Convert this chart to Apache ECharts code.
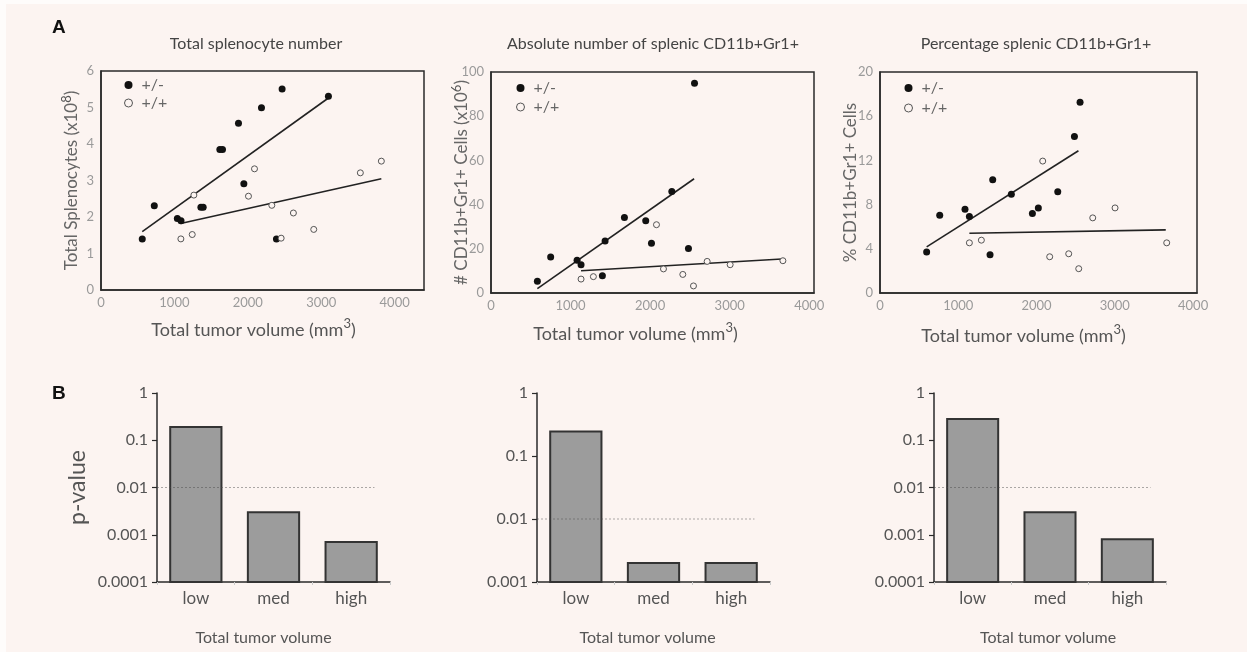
<!DOCTYPE html>
<html>
<head>
<meta charset="utf-8">
<script src="https://cdn.jsdelivr.net/npm/echarts@6/dist/echarts.min.js"></script>
<style>
  html, body { margin: 0; padding: 0; background: #fcf4f1; }
  #chart { width: 1247px; height: 652px; }
</style>
</head>
<body>
<div id="chart"></div>
<script>
// ---- data ----
// panel A1: total splenocytes (x10^8) vs tumor volume (mm3)
const a1Het = [[562, 1.40], [726, 2.31], [1040, 1.96], [1090, 1.90], [1361, 2.27], [1392, 2.27],
  [1619, 3.85], [1655, 3.85], [1873, 4.57], [1946, 2.91], [2186, 4.99], [2390, 1.40],
  [2467, 5.51], [3098, 5.31]];
const a1Wt = [[1088, 1.40], [1243, 1.52], [1265, 2.60], [2009, 2.57], [2091, 3.32], [2327, 2.32],
  [2454, 1.42], [2621, 2.11], [2898, 1.66], [3533, 3.21], [3819, 3.53]];
const a1HetFit = [[562, 1.60], [3098, 5.26]];
const a1WtFit = [[1084, 1.82], [3819, 3.05]];

// panel A2: absolute number CD11b+Gr1+ (x10^6)
const a2Het = [[583, 5.3], [750, 16.3], [1082, 14.8], [1132, 12.8], [1400, 7.8], [1434, 23.5],
  [1677, 34.2], [1945, 32.7], [2017, 22.5], [2273, 45.9], [2482, 20.1], [2558, 94.9]];
const a2Wt = [[1132, 6.3], [1287, 7.4], [2080, 30.9], [2168, 10.9], [2411, 8.4], [2545, 3.2],
  [2717, 14.3], [3006, 12.8], [3669, 14.6]];
const a2HetFit = [[583, 2.0], [2553, 51.7]];
const a2WtFit = [[1132, 10.1], [3656, 15.4]];

// panel A3: percentage CD11b+Gr1+
const a3Het = [[596, 3.70], [763, 7.04], [1086, 7.58], [1142, 6.92], [1406, 3.46], [1440, 10.26],
  [1678, 8.93], [1947, 7.19], [2023, 7.70], [2271, 9.17], [2484, 14.17], [2556, 17.26]];
const a3Wt = [[1142, 4.54], [1295, 4.78], [2079, 11.94], [2168, 3.28], [2411, 3.55], [2539, 2.20],
  [2718, 6.80], [3003, 7.70], [3663, 4.54]];
const a3HetFit = [[596, 4.18], [2535, 12.87]];
const a3WtFit = [[1142, 5.41], [3651, 5.71]];

// panel B: p-values by tumor volume group
const volumeGroups = ['low', 'med', 'high'];
const b1P = [0.19, 0.003, 0.0007];
const b2P = [0.245, 0.002, 0.002];
const b3P = [0.28, 0.003, 0.0008];
const pCutoff = 0.01;

const titles = ['Total splenocyte number', 'Absolute number of splenic CD11b+Gr1+', 'Percentage splenic CD11b+Gr1+'];

// ---- styling ----
const BG = '#fcf4f1';
const FONT = 'Lato';
const INK = '#2a2a2a';
// superscript: a small token pinned to the top of a tall line
const sup = { sup: { fontSize: 13, verticalAlign: 'top', lineHeight: 13, fontFamily: FONT, color: '#555' } };

const scatterGrids = [
  { left: 101, top: 71, width: 323, height: 219 },
  { left: 491, top: 72, width: 323, height: 221 },
  { left: 880, top: 72, width: 317, height: 221 },
];
const barGrids = [
  { left: 157, top: 393, width: 233, height: 189 },
  { left: 537, top: 393, width: 233, height: 189 },
  { left: 934, top: 393, width: 232, height: 189 },
];

const scatterX = (max, gap, pad) => ({
  type: 'value', min: 0, max: max, interval: 1000,
  axisLine: { show: true, lineStyle: { color: INK, width: 1.5 } },
  axisTick: { show: false },
  splitLine: { show: false },
  axisLabel: {
    color: '#9a9a9a', fontSize: 13, fontFamily: FONT, margin: 6, showMaxLabel: false,
    formatter: (v) => String(v),
  },
  name: 'Total tumor volume (mm{sup|3})', nameLocation: 'middle', nameGap: gap,
  nameTextStyle: { color: '#555', fontSize: 18, lineHeight: 26, fontFamily: FONT, padding: pad, rich: sup },
});
const scatterY = (max, interval, name) => ({
  type: 'value', min: 0, max: max, interval: interval,
  axisLine: { show: true, lineStyle: { color: INK, width: 1.5 } },
  axisTick: { show: false },
  splitLine: { show: false },
  axisLabel: { color: '#9a9a9a', fontSize: 13, fontFamily: FONT, margin: 7 },
  name: name, nameLocation: 'middle', nameGap: 17, nameMoveOverlap: false,
  nameTextStyle: { color: '#666', fontSize: 17, lineHeight: 24, fontFamily: FONT, rich: sup },
});

const barX = (pad) => ({
  type: 'category', data: volumeGroups,
  axisLine: { show: true, lineStyle: { color: INK, width: 1.5 } },
  axisTick: { show: true, length: 3, lineStyle: { color: '#ccc' } },
  axisLabel: { color: '#555', fontSize: 17, fontFamily: FONT, margin: 8 },
  name: 'Total tumor volume', nameLocation: 'middle', nameGap: 48,
  nameTextStyle: { color: '#555', fontSize: 16, fontFamily: FONT, padding: pad },
});
const barY = (min, name) => ({
  type: 'log', logBase: 10, min: min, max: 1,
  axisLine: { show: true, lineStyle: { color: INK, width: 1.5 } },
  axisTick: { show: true, length: 5, lineStyle: { color: INK, width: 1.2 } },
  splitLine: { show: false },
  axisLabel: {
    color: '#555', fontSize: 16, fontFamily: FONT, margin: 9,
    formatter: (v) => String(Number(v.toPrecision(1))),
  },
  name: name || '', nameLocation: 'middle', nameGap: 68,
  nameTextStyle: { color: '#555', fontSize: 23, fontFamily: FONT },
});
// hidden value axis to draw the dotted cutoff across the bar panels
const cutoffX = { type: 'value', min: 0, max: 3, show: false };

const scatterSeries = (idx, het, wt, hetFit, wtFit) => [
  {
    name: '+/-', type: 'scatter', xAxisIndex: idx, yAxisIndex: idx, data: het,
    symbol: 'circle', symbolSize: 7, itemStyle: { color: '#111', opacity: 1 }, z: 3,
  },
  {
    name: '+/+', type: 'scatter', xAxisIndex: idx, yAxisIndex: idx, data: wt,
    symbol: 'circle', symbolSize: 6,
    itemStyle: { color: BG, borderColor: '#555', borderWidth: 1, opacity: 1 }, z: 3,
  },
  {
    type: 'line', xAxisIndex: idx, yAxisIndex: idx, data: hetFit, symbol: 'none',
    lineStyle: { color: '#222', width: 1.6 }, z: 2, silent: true,
  },
  {
    type: 'line', xAxisIndex: idx, yAxisIndex: idx, data: wtFit, symbol: 'none',
    lineStyle: { color: '#222', width: 1.6 }, z: 2, silent: true,
  },
];

const barSeries = (idx, values, yMin) => [
  {
    type: 'custom', xAxisIndex: 3 + idx, yAxisIndex: 3 + idx,
    data: values.map((v, i) => [i, v]),
    encode: { x: 0, y: 1 },
    renderItem: (params, api) => {
      const top = api.coord([api.value(0), api.value(1)]);
      const base = api.coord([api.value(0), yMin]);
      const w = api.size([1, 1])[0] * 0.66;
      return {
        type: 'rect',
        shape: { x: top[0] - w / 2, y: top[1], width: w, height: base[1] - top[1] },
        style: { fill: '#9c9c9c', stroke: '#333', lineWidth: 2 },
      };
    },
    z: 2,
  },
  {
    type: 'line', xAxisIndex: 6 + idx, yAxisIndex: 3 + idx,
    data: [[0, pCutoff], [2.8, pCutoff]], symbol: 'none', silent: true,
    lineStyle: { color: 'rgba(70,70,70,0.45)', width: 1, type: [2, 2] }, z: 3,
  },
];

const legendAt = (left, top, gap) => ({
  orient: 'vertical', left: left, top: top, itemGap: gap,
  itemWidth: 8, itemHeight: 8, selectedMode: false,
  textStyle: { color: '#666', fontSize: 16, lineHeight: 14, fontFamily: FONT, padding: [0, 0, 0, 4] },
  data: [
    { name: '+/-', icon: 'circle', itemStyle: { color: '#111' } },
    { name: '+/+', icon: 'circle', itemStyle: { color: BG, borderColor: '#555', borderWidth: 1 } },
  ],
});

const chart = echarts.init(document.getElementById('chart'));
chart.setOption({
  backgroundColor: BG,
  animation: false,
  title: [
    { text: titles[0], left: 251, top: 31, textAlign: 'center' },
    { text: titles[1], left: 648, top: 31, textAlign: 'center' },
    { text: titles[2], left: 1031, top: 31, textAlign: 'center' },
  ].map(t => Object.assign(t, {
    textStyle: { color: '#444', fontSize: 16, fontWeight: 'normal', fontFamily: FONT },
  })),
  graphic: [
    { type: 'rect', shape: { x: 0, y: 0, width: 1247, height: 4 }, style: { fill: '#fefcfb' } },
    { type: 'rect', shape: { x: 0, y: 0, width: 6, height: 652 }, style: { fill: '#fefcfb' } },
    { type: 'text', left: 52, top: 18, style: { text: 'A', font: 'bold 19px "Liberation Sans"', fill: '#111' } },
    { type: 'text', left: 52, top: 384, style: { text: 'B', font: 'bold 19px "Liberation Sans"', fill: '#111' } },
  ],
  legend: [legendAt(119, 72, 2), legendAt(511, 75, 3), legendAt(899, 75, 4)],
  grid: scatterGrids.map(g => Object.assign({ show: true, borderColor: INK, borderWidth: 1.5 }, g))
    .concat(barGrids),
  xAxis: [
    scatterX(4400, 27, [0, 18, 0, 0]),
    scatterX(4060, 28, [0, 34, 0, 0]),
    scatterX(4050, 30, [0, 30, 0, 0]),
    barX([0, 20, 0, 0]),
    barX([0, 12, 0, 0]),
    barX([0, 4, 0, 0]),
    Object.assign({ gridIndex: 3 }, cutoffX),
    Object.assign({ gridIndex: 4 }, cutoffX),
    Object.assign({ gridIndex: 5 }, cutoffX),
  ].map((a, i) => (a.gridIndex === undefined ? Object.assign({ gridIndex: i }, a) : a)),
  yAxis: [
    scatterY(6, 1, 'Total Splenocytes (x10{sup|8})'),
    scatterY(100, 20, '# CD11b+Gr1+ Cells (x10{sup|6})'),
    scatterY(20, 4, '% CD11b+Gr1+ Cells'),
    barY(0.0001, 'p-value'),
    barY(0.001),
    barY(0.0001),
  ].map((a, i) => Object.assign({ gridIndex: i }, a)),
  series: [
    ...scatterSeries(0, a1Het, a1Wt, a1HetFit, a1WtFit),
    ...scatterSeries(1, a2Het, a2Wt, a2HetFit, a2WtFit),
    ...scatterSeries(2, a3Het, a3Wt, a3HetFit, a3WtFit),
    ...barSeries(0, b1P, 0.0001),
    ...barSeries(1, b2P, 0.001),
    ...barSeries(2, b3P, 0.0001),
  ],
});
</script>
</body>
</html>
